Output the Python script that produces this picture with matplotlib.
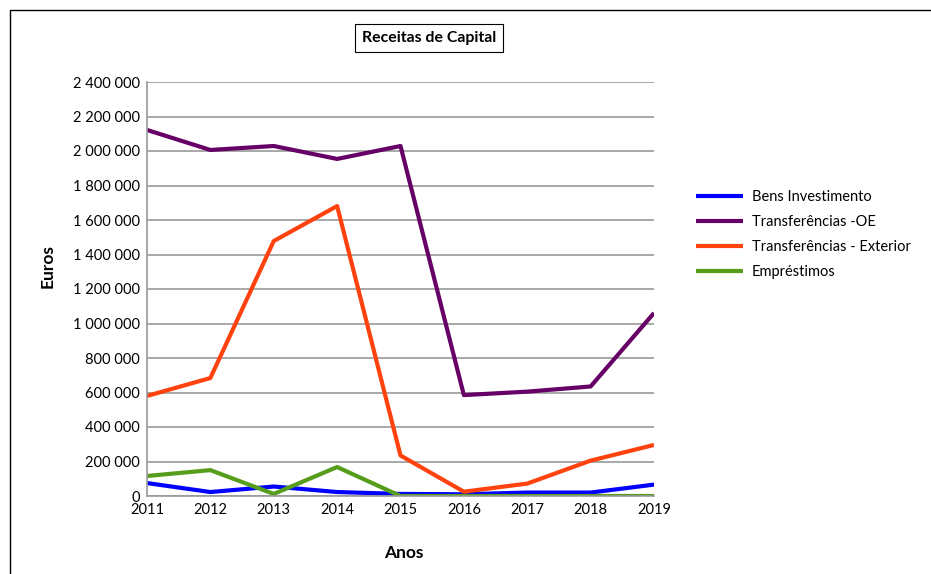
import matplotlib.pyplot as plt
from matplotlib.patches import Rectangle
from matplotlib.ticker import FuncFormatter

plt.rcParams['font.family'] = ['Lato', 'DejaVu Sans']

anos = [2011, 2012, 2013, 2014, 2015, 2016, 2017, 2018, 2019]
bens_investimento = [75000, 23000, 55000, 23000, 12000, 10000, 20000, 20000, 66000]
transf_oe = [2122000, 2006000, 2029000, 1954000, 2029000, 585000, 605000, 635000, 1061000]
transf_exterior = [580000, 684000, 1478000, 1681000, 235000, 25000, 72000, 205000, 296000]
emprestimos = [116000, 150000, 12000, 168000, 0, 0, 0, 0, 0]

series = [
    ('Bens Investimento', bens_investimento, '#0000ff'),
    ('Transferências -OE', transf_oe, '#660066'),
    ('Transferências - Exterior', transf_exterior, '#ff420e'),
    ('Empréstimos', emprestimos, '#579d1c'),
]

fig = plt.figure(figsize=(9.31, 5.74), dpi=100)
ax = fig.add_axes([147 / 931, 1 - 496 / 574, (654 - 147) / 931, (496 - 82) / 574])

for nome, vals, cor in series:
    ax.plot(anos, vals, color=cor, lw=3, label=nome, solid_capstyle='butt')

ax.set_xlim(2011, 2019)
ax.set_ylim(0, 2400000)
ax.set_yticks(range(0, 2400001, 200000))
ax.set_xticks(anos)
ax.yaxis.set_major_formatter(FuncFormatter(lambda v, p: f'{int(v):,}'.replace(',', ' ')))
ax.grid(axis='y', color='#999999', lw=1.2)
ax.set_axisbelow(True)
ax.tick_params(length=0, labelsize=10.5, pad=5)
for s in ['top', 'right']:
    ax.spines[s].set_visible(False)
for s in ['left', 'bottom']:
    ax.spines[s].set_color('#999999')
    ax.spines[s].set_linewidth(1.2)

fig.text(48 / 931, 1 - 266 / 574, 'Euros', rotation=90, ha='center', va='center',
         fontsize=12.5, fontweight='bold')
fig.text(404 / 931, 1 - 553 / 574, 'Anos', ha='center', va='center',
         fontsize=12.5, fontweight='bold')
fig.text(429 / 931, 1 - 38 / 574, 'Receitas de Capital', ha='center', va='center',
         fontsize=11.4, fontweight='bold',
         bbox=dict(boxstyle='square,pad=0.45', fc='white', ec='black', lw=0.8))

ax.legend(loc='upper left', bbox_to_anchor=(683 / 931, 1 - 177 / 574),
          bbox_transform=fig.transFigure, frameon=False, fontsize=10.5,
          handlelength=3.2, handletextpad=0.6, labelspacing=0.76)

fig.add_artist(Rectangle((10 / 931, -0.01), 1.0, 1 - 10 / 574 + 0.01,
                         transform=fig.transFigure, fill=False, ec='black', lw=1))

fig.savefig('out.png', dpi=100)
